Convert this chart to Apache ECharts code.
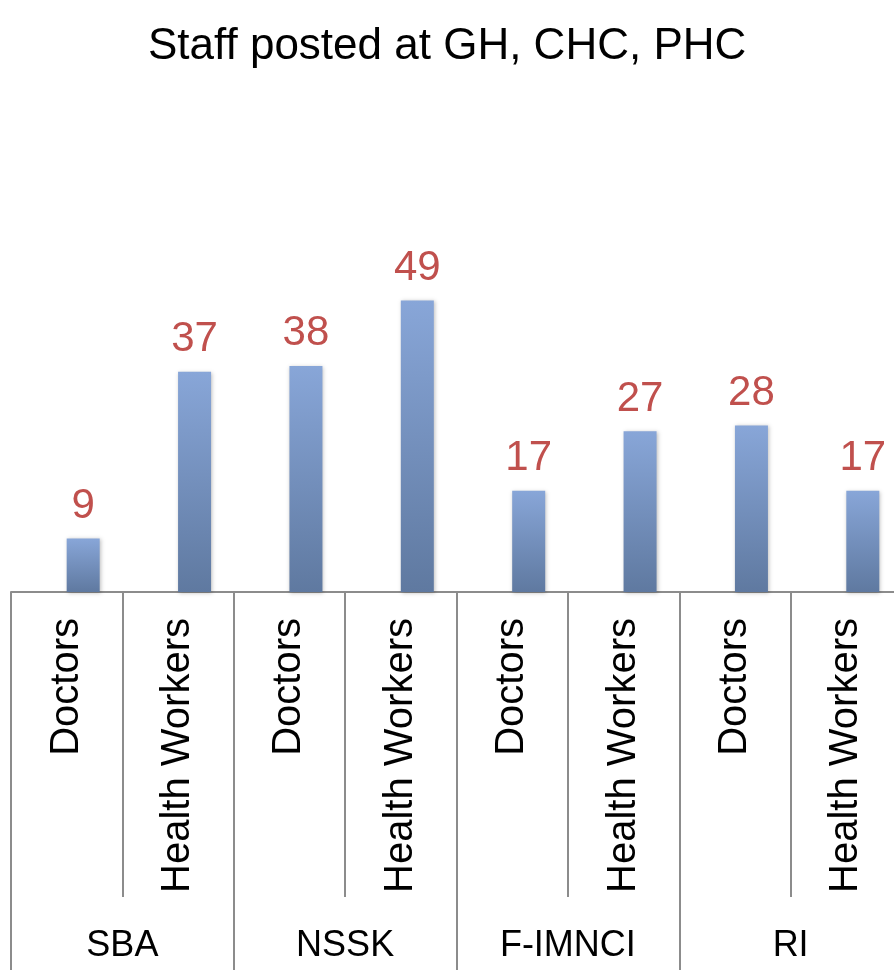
<!DOCTYPE html>
<html>
<head>
<meta charset="utf-8">
<title>Staff posted at GH, CHC, PHC</title>
<script src="https://cdn.jsdelivr.net/npm/echarts@6/dist/echarts.min.js"></script>
<style>
  html, body { margin: 0; padding: 0; background: #fff; overflow: hidden; }
  /* a bit wider than the window: the last category runs past the right edge */
  #chart { width: 902px; height: 970px; }
</style>
</head>
<body>
<div id="chart"></div>
<script>
// chart data
const staffTypes = ['Doctors', 'Health Workers', 'Doctors', 'Health Workers',
                    'Doctors', 'Health Workers', 'Doctors', 'Health Workers']
const programmes = ['SBA', 'NSSK', 'F-IMNCI', 'RI']
const staffCounts = [9, 37, 38, 49, 17, 27, 28, 17]

const myChart = echarts.init(document.getElementById('chart'))

const gridLine = '#8c8c8c'
const font = '"Liberation Sans", Arial, sans-serif'

myChart.setOption({
  animation: false,
  title: {
    text: 'Staff posted at GH, CHC, PHC',
    left: 143,
    top: 20,
    textStyle: {
      fontFamily: font,
      fontWeight: 'normal',
      fontSize: 44,
      color: '#000'
    }
  },
  grid: {
    left: 11,
    right: 0,
    top: 235,
    bottom: 378
  },
  xAxis: [
    {
      type: 'category',
      data: staffTypes,
      position: 'bottom',
      axisLine: { lineStyle: { color: gridLine, width: 2 } },
      axisTick: {
        show: true,
        interval: 0,
        length: 305,
        lineStyle: { color: gridLine, width: 2 }
      },
      axisLabel: {
        interval: 0,
        rotate: 90,
        margin: 26,
        color: '#000',
        fontFamily: font,
        fontSize: 40
      }
    },
    {
      type: 'category',
      data: programmes,
      position: 'bottom',
      axisLine: { show: false },
      axisTick: {
        show: true,
        interval: 0,
        length: 380,
        lineStyle: { color: gridLine, width: 2 }
      },
      axisLabel: {
        interval: 0,
        margin: 336,
        color: '#000',
        fontFamily: font,
        fontSize: 36
      }
    }
  ],
  yAxis: {
    type: 'value',
    min: 0,
    max: 60,
    show: false
  },
  series: [
    {
      // empty spacer so the bars sit right of each category centre
      name: 'spacer',
      type: 'bar',
      xAxisIndex: 0,
      barWidth: 33,
      barGap: '0%',
      data: staffCounts.map(() => '-')
    },
    {
      name: 'Staff',
      type: 'bar',
      xAxisIndex: 0,
      barWidth: 33,
      barGap: '0%',
      itemStyle: {
        color: new echarts.graphic.LinearGradient(0, 0, 0, 1, [
          { offset: 0, color: '#88a6d8' },
          { offset: 1, color: '#5f79a0' }
        ]),
        shadowColor: 'rgba(0, 0, 0, 0.25)',
        shadowBlur: 4,
        shadowOffsetX: 1,
        shadowOffsetY: 1
      },
      label: {
        show: true,
        position: 'top',
        distance: 11,
        color: '#c0504d',
        fontFamily: font,
        fontSize: 42
      },
      data: staffCounts
    }
  ]
})
</script>
</body>
</html>
